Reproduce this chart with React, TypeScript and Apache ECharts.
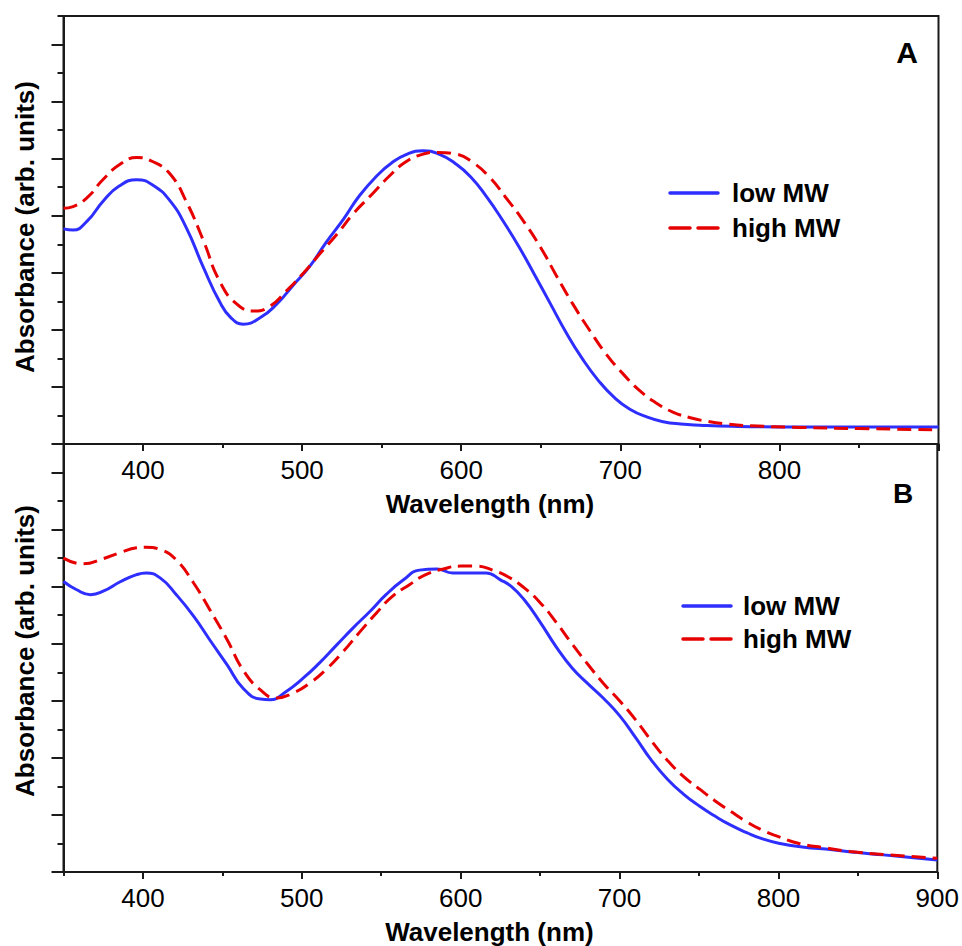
import React, { useEffect, useRef } from "react";
import * as echarts from "echarts";

// ---- Panel A data (wavelength nm, absorbance arb. units) ----
const aLowWl = [350, 356, 365, 375, 385, 396, 406, 417, 427, 438, 448, 455, 463, 474, 484, 494, 505, 515, 526, 536, 547, 556, 566, 576, 586, 596, 606, 616, 626, 636, 646, 656, 666, 676, 686, 696, 706, 717, 727, 738, 750, 770, 800, 850, 900];
const aLowAbs = [3.77, 3.75, 3.91, 4.26, 4.52, 4.63, 4.54, 4.26, 3.80, 3.09, 2.50, 2.22, 2.10, 2.22, 2.45, 2.77, 3.12, 3.53, 3.94, 4.35, 4.70, 4.92, 5.08, 5.14, 5.08, 4.92, 4.68, 4.33, 3.92, 3.47, 2.97, 2.46, 1.95, 1.50, 1.12, 0.82, 0.61, 0.47, 0.39, 0.35, 0.33, 0.31, 0.30, 0.30, 0.30];

const aHighWl = [350, 356, 365, 375, 386, 396, 406, 417, 427, 438, 448, 459, 470, 480, 490, 501, 511, 522, 532, 543, 555, 565, 575, 585, 597, 607, 618, 628, 639, 650, 660, 670, 681, 691, 702, 712, 723, 733, 744, 754, 767, 782, 813, 850, 900];
const aHighAbs = [4.13, 4.16, 4.32, 4.64, 4.91, 5.02, 4.95, 4.73, 4.26, 3.56, 2.86, 2.45, 2.33, 2.42, 2.68, 3.00, 3.33, 3.68, 4.03, 4.35, 4.70, 4.94, 5.07, 5.11, 5.08, 4.94, 4.67, 4.32, 3.91, 3.44, 2.94, 2.46, 1.98, 1.58, 1.22, 0.94, 0.71, 0.56, 0.46, 0.40, 0.35, 0.32, 0.29, 0.27, 0.25];

// ---- Panel B data ----
const bLowWl = [350, 358, 367, 375, 386, 396, 402, 411, 421, 432, 442, 453, 463, 474, 480, 490, 501, 511, 522, 532, 543, 553, 564, 574, 585, 595, 606, 616, 625, 632, 640, 650, 660, 670, 680, 690, 700, 710, 720, 730, 740, 750, 760, 770, 780, 790, 801, 815, 834, 850, 866, 885, 900];
const bLowAbs = [5.09, 4.95, 4.86, 4.92, 5.09, 5.21, 5.24, 5.15, 4.86, 4.48, 4.07, 3.63, 3.22, 3.03, 3.02, 3.16, 3.40, 3.66, 3.98, 4.27, 4.57, 4.86, 5.12, 5.29, 5.31, 5.24, 5.24, 5.24, 5.12, 5.00, 4.77, 4.38, 3.95, 3.58, 3.30, 3.04, 2.74, 2.36, 1.96, 1.63, 1.37, 1.16, 0.98, 0.82, 0.69, 0.58, 0.50, 0.44, 0.39, 0.34, 0.30, 0.25, 0.21];

const bHighWl = [350, 362, 375, 386, 396, 402, 411, 421, 432, 442, 453, 463, 474, 484, 494, 505, 515, 526, 536, 547, 557, 568, 578, 589, 600, 610, 620, 630, 640, 650, 660, 670, 680, 690, 700, 710, 720, 730, 740, 750, 760, 770, 780, 790, 800, 813, 830, 845, 870, 900];
const bHighAbs = [5.50, 5.40, 5.49, 5.60, 5.68, 5.69, 5.65, 5.47, 5.06, 4.60, 4.07, 3.54, 3.19, 3.05, 3.13, 3.31, 3.54, 3.86, 4.19, 4.54, 4.83, 5.04, 5.21, 5.31, 5.36, 5.36, 5.29, 5.17, 4.98, 4.72, 4.38, 4.00, 3.64, 3.30, 3.00, 2.67, 2.30, 1.96, 1.68, 1.46, 1.25, 1.06, 0.88, 0.73, 0.62, 0.50, 0.42, 0.36, 0.30, 0.24];

// ---- Ticks ----
const xMajorTicks = [400, 500, 600, 700, 800, 900];
const xMinorTicks = [350, 450, 550, 650, 750, 850];
const xLabelsTop = [400, 500, 600, 700, 800];
const xLabelsBottom = [400, 500, 600, 700, 800, 900];
const yMajorTicks = [0, 1, 2, 3, 4, 5, 6, 7];
const yMinorTicks = [0.5, 1.5, 2.5, 3.5, 4.5, 5.5, 6.5, 7.5];

const seriesNames = ["low MW", "high MW"];
const panelLetters = ["A", "B"];

const FONT = "'Liberation Sans', Arial, Helvetica, sans-serif";
const BLUE = "#2e2eff";
const RED = "#e60000";
const AXIS = "#1a1a1a";

function pairs(x: number[], y: number[]) {
  return x.map((v, i) => [v, y[i]]);
}

export default function App() {
  const ref = useRef<HTMLDivElement>(null);

  useEffect(() => {
    if (!ref.current) return;
    const chart = echarts.init(ref.current, null, { renderer: "svg" });

    const mkX = (gridIndex: number, labels: number[]) => [
      {
        type: "value",
        gridIndex,
        min: 350,
        max: 900,
        position: "bottom",
        axisLine: { onZero: false, lineStyle: { color: AXIS, width: 2 } },
        axisTick: { customValues: xMajorTicks, length: 7, lineStyle: { color: AXIS, width: 2 } },
        axisLabel: { customValues: labels, margin: 13, fontSize: 26, color: "#000", fontFamily: FONT },
        splitLine: { show: false },
        name: "Wavelength (nm)",
        nameLocation: "middle",
        nameGap: 47,
        nameTextStyle: { fontSize: 26, fontWeight: "bold", color: "#000", fontFamily: FONT, padding: [0, 22, 0, 0] },
      },
      {
        type: "value",
        gridIndex,
        min: 350,
        max: 900,
        position: "bottom",
        axisLine: { show: false, onZero: false },
        axisTick: { customValues: xMinorTicks, length: 4, lineStyle: { color: AXIS, width: 2 } },
        axisLabel: { show: false },
        splitLine: { show: false },
      },
    ];

    const mkY = (gridIndex: number, shiftUp: number) => [
      {
        type: "value",
        gridIndex,
        min: 0,
        max: 7.5,
        position: "left",
        axisLine: { onZero: false, lineStyle: { color: AXIS, width: 2 } },
        axisTick: { customValues: yMajorTicks, length: 12, lineStyle: { color: AXIS, width: 2 } },
        axisLabel: { show: false },
        splitLine: { show: false },
        name: "Absorbance (arb. units)",
        nameLocation: "middle",
        nameGap: 26,
        nameTextStyle: { fontSize: 26, fontWeight: "bold", color: "#000", fontFamily: FONT, padding: [0, 0, 0, shiftUp * 2] },
      },
      {
        type: "value",
        gridIndex,
        min: 0,
        max: 7.5,
        position: "left",
        axisLine: { show: false, onZero: false },
        axisTick: { customValues: yMinorTicks, length: 6, lineStyle: { color: AXIS, width: 2 } },
        axisLabel: { show: false },
        splitLine: { show: false },
      },
    ];

    const mkSeries = (xi: number, yi: number, low: number[][], high: number[][]) => [
      {
        type: "line",
        name: seriesNames[0],
        xAxisIndex: xi,
        yAxisIndex: yi,
        data: low,
        symbol: "none",
        smooth: 0.5,
        lineStyle: { color: BLUE, width: 3 },
        itemStyle: { color: BLUE },
      },
      {
        type: "line",
        name: seriesNames[1],
        xAxisIndex: xi,
        yAxisIndex: yi,
        data: high,
        symbol: "none",
        smooth: 0.5,
        lineStyle: { color: RED, width: 3, type: [14, 7] },
        itemStyle: { color: RED },
      },
    ];

    // legend drawn as graphic: [x of line start, y of first row, row spacing, text gap]
    const mkLegend = (x0: number, y0: number, dy: number, textX: number) => {
      const els: any[] = [];
      const colors = [BLUE, RED];
      const dashes: any[] = [null, [20, 8]];
      seriesNames.forEach((nm, i) => {
        const y = y0 + i * dy;
        els.push({
          type: "line",
          shape: { x1: x0, y1: y, x2: x0 + 48, y2: y },
          style: { stroke: colors[i], lineWidth: 3.5, lineDash: dashes[i], lineCap: "round" },
        });
        els.push({
          type: "text",
          x: textX,
          y,
          style: { text: nm, fontSize: 26, fontWeight: "bold", fill: "#000", fontFamily: FONT, align: "left", verticalAlign: "middle" },
        });
      });
      return els;
    };

    chart.setOption({
      animation: false,
      backgroundColor: "#fff",
      grid: [
        { left: 63.5, top: 16, width: 875, height: 428, show: true, borderColor: AXIS, borderWidth: 2, backgroundColor: "transparent" },
        { left: 63.5, top: 444, width: 875, height: 428, show: true, borderColor: AXIS, borderWidth: 2, backgroundColor: "transparent" },
      ],
      xAxis: [...mkX(0, xLabelsTop), ...mkX(1, xLabelsBottom)],
      yAxis: [...mkY(0, 3), ...mkY(1, 7)],
      series: [
        ...mkSeries(0, 0, pairs(aLowWl, aLowAbs), pairs(aHighWl, aHighAbs)),
        ...mkSeries(2, 2, pairs(bLowWl, bLowAbs), pairs(bHighWl, bHighAbs)),
      ],
      graphic: [
        ...mkLegend(670, 193, 35, 732),
        ...mkLegend(683, 606, 33, 743),
        {
          type: "text",
          x: 907,
          y: 52,
          style: { text: panelLetters[0], fontSize: 30, fontWeight: "bold", fill: "#000", fontFamily: FONT, align: "center", verticalAlign: "middle" },
        },
        {
          type: "text",
          x: 903,
          y: 493,
          style: { text: panelLetters[1], fontSize: 28, fontWeight: "bold", fill: "#000", fontFamily: FONT, align: "center", verticalAlign: "middle" },
        },
      ],
    });

    return () => chart.dispose();
  }, []);

  return (
    <div
      ref={ref}
      style={{ position: "absolute", left: 0, top: 0, width: 962, height: 946, background: "#fff" }}
    />
  );
}
